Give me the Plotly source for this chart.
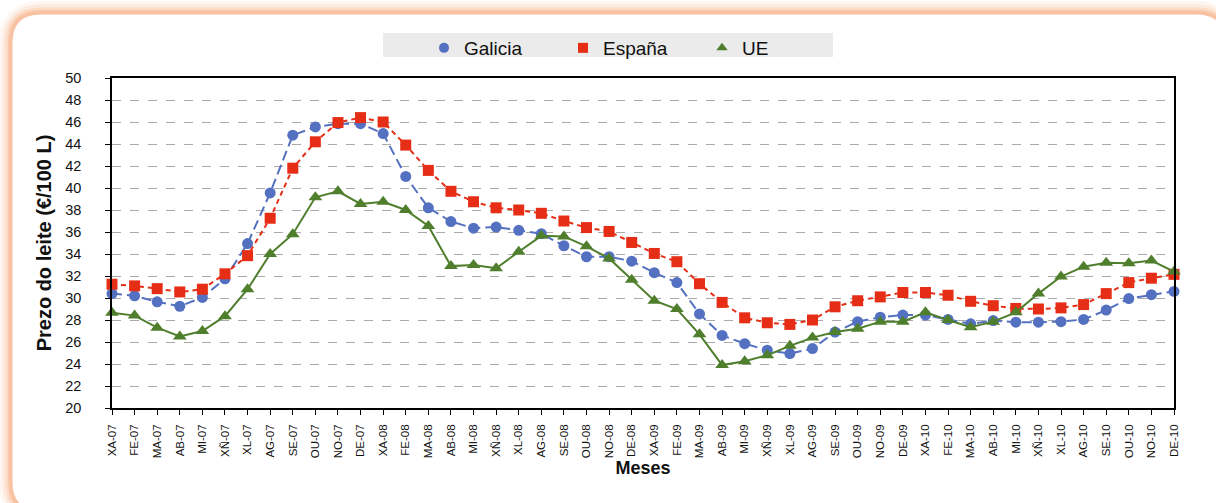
import plotly.graph_objects as go

months = ["XA-07","FE-07","MA-07","AB-07","MI-07","XÑ-07","XL-07","AG-07","SE-07","OU-07","NO-07","DE-07",
          "XA-08","FE-08","MA-08","AB-08","MI-08","XÑ-08","XL-08","AG-08","SE-08","OU-08","NO-08","DE-08",
          "XA-09","FE-09","MA-09","AB-09","MI-09","XÑ-09","XL-09","AG-09","SE-09","OU-09","NO-09","DE-09",
          "XA-10","FE-10","MA-10","AB-10","MI-10","XÑ-10","XL-10","AG-10","SE-10","OU-10","NO-10","DE-10"]

galicia = [30.4, 30.2, 29.65, 29.25, 30.05, 31.75, 34.95, 39.55, 44.8, 45.55, 45.85, 45.85,
           44.95, 41.05, 38.2, 36.95, 36.35, 36.45, 36.15, 35.85, 34.75, 33.75, 33.75, 33.35,
           32.3, 31.4, 28.55, 26.6, 25.85, 25.25, 24.95, 25.4, 26.9, 27.85, 28.25, 28.45,
           28.45, 28.05, 27.65, 27.95, 27.8, 27.8, 27.85, 28.05, 28.9, 29.95, 30.3, 30.6]

espana = [31.25, 31.1, 30.85, 30.55, 30.8, 32.2, 33.85, 37.25, 41.8, 44.2, 45.95, 46.4,
          46.0, 43.9, 41.6, 39.7, 38.75, 38.2, 38.0, 37.7, 37.0, 36.4, 36.05, 35.05,
          34.05, 33.3, 31.3, 29.6, 28.2, 27.75, 27.6, 28.0, 29.2, 29.75, 30.1, 30.5,
          30.5, 30.25, 29.7, 29.3, 29.05, 29.0, 29.1, 29.4, 30.4, 31.4, 31.8, 32.15]

ue = [28.65, 28.4, 27.3, 26.5, 27.0, 28.35, 30.8, 34.0, 35.8, 39.15, 39.7, 38.55,
      38.75, 38.0, 36.55, 32.9, 33.0, 32.7, 34.2, 35.65, 35.6, 34.7, 33.6, 31.65,
      29.75, 29.0, 26.7, 23.9, 24.25, 24.8, 25.65, 26.4, 26.9, 27.2, 27.85, 27.85,
      28.7, 28.0, 27.35, 27.85, 28.7, 30.4, 31.95, 32.85, 33.2, 33.15, 33.4, 32.4]

series_names = ["Galicia", "España", "UE"]
colors = ["#5470C0", "#E62E16", "#4F7E2D"]
symbols = ["circle", "square", "triangle-up"]
dashes = ["10px,5px", "5px,4px", "solid"]
msizes = [11, 11, 12]

W, H = 1216, 503
L, R, T, B = 112, 42, 78, 95
PW, PH = W - L - R, H - T - B

def px(x):
    return (x - L) / PW

def py(y):
    return (H - B - y) / PH

def rrect(x0, y0, x1, y1, r):
    pts = [
        f"M {px(x0 + r)},{py(y0)}",
        f"L {px(x1 - r)},{py(y0)}",
        f"Q {px(x1)},{py(y0)} {px(x1)},{py(y0 + r)}",
        f"L {px(x1)},{py(y1 - r)}",
        f"Q {px(x1)},{py(y1)} {px(x1 - r)},{py(y1)}",
        f"L {px(x0 + r)},{py(y1)}",
        f"Q {px(x0)},{py(y1)} {px(x0)},{py(y1 - r)}",
        f"L {px(x0)},{py(y0 + r)}",
        f"Q {px(x0)},{py(y0)} {px(x0 + r)},{py(y0)}",
        "Z",
    ]
    return " ".join(pts)

fig = go.Figure()

all_vals = [galicia, espana, ue]
for name, vals, c, s, d, ms in zip(series_names, all_vals, colors, symbols, dashes, msizes):
    fig.add_trace(go.Scatter(
        x=months, y=vals, mode="lines+markers", name=name, showlegend=False,
        line=dict(color=c, width=2, dash=d),
        marker=dict(color=c, symbol=s, size=ms),
        cliponaxis=False,
    ))
for name, c, s in zip(series_names, colors, symbols):
    fig.add_trace(go.Scatter(
        x=[None], y=[None], mode="markers", name=name,
        marker=dict(color=c, symbol=s, size=10),
    ))

shapes = []
card = (11, 13, 1226, 512, 30)
for w, op in [(24, 0.10), (17, 0.15), (11, 0.22), (6, 0.32)]:
    shapes.append(dict(type="path", xref="paper", yref="paper", path=rrect(*card),
                       line=dict(color=f"rgba(248,165,115,{op})", width=w), layer="below"))
shapes.append(dict(type="path", xref="paper", yref="paper", path=rrect(*card),
                   line=dict(color="#F8C2A2", width=3), fillcolor="white", layer="below"))
# legend background band
shapes.append(dict(type="rect", xref="paper", yref="paper",
                   x0=px(383), x1=px(833), y0=py(57), y1=py(33),
                   line=dict(width=0), fillcolor="#EBEBEB", layer="below"))

fig.update_layout(
    width=W, height=H,
    margin=dict(l=L, r=R, t=T, b=B),
    paper_bgcolor="white",
    plot_bgcolor="rgba(0,0,0,0)",
    font=dict(family="Liberation Sans, Arial, sans-serif", color="#111111"),
    shapes=shapes,
    legend=dict(
        orientation="h", x=px(424), xanchor="left", y=py(29), yanchor="top",
        bgcolor="rgba(0,0,0,0)", font=dict(size=19, color="#111111"),
        entrywidth=94, entrywidthmode="pixels", itemclick=False,
    ),
    xaxis=dict(
        type="category", range=[0, len(months) - 1],
        showline=True, linecolor="black", linewidth=1.5, mirror=True,
        ticks="outside", ticklen=5, tickcolor="black", tickwidth=1,
        tickangle=-90, tickfont=dict(size=11.5, color="#111111"), ticklabelstandoff=5,
        showgrid=False, zeroline=False,
        title=dict(text="<b>Meses</b>", font=dict(size=18, color="#111111"), standoff=4),
    ),
    yaxis=dict(
        range=[20, 50], dtick=2, tick0=20,
        showline=True, linecolor="black", linewidth=1.5, mirror=True,
        ticks="outside", ticklen=5, tickcolor="black", tickwidth=1,
        tickfont=dict(size=14.5, color="#111111"), ticklabelstandoff=21,
        showgrid=True, gridcolor="#AAAAAA", gridwidth=1, griddash="dash",
        zeroline=False,
        title=dict(text="<b>Prezo do leite (€/100 L)</b>", font=dict(size=20, color="#111111"), standoff=8),
    ),
)

fig.write_html("out.html", config={"displayModeBar": False},
               post_script="document.body.style.margin='0';")
